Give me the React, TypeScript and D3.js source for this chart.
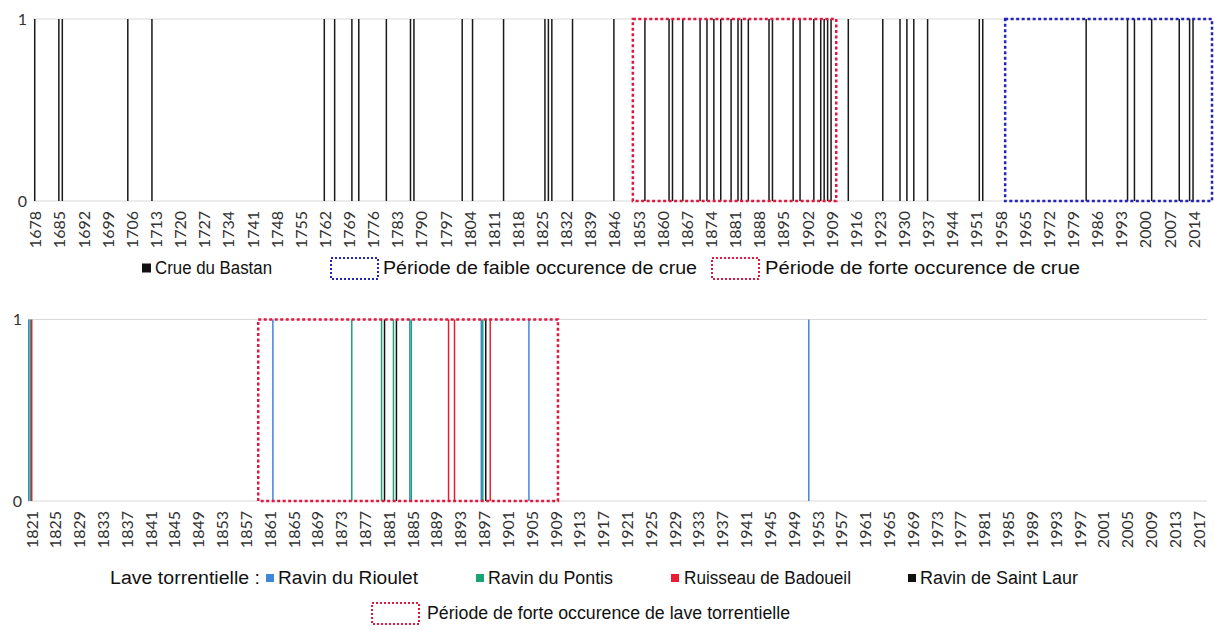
import {Component, createRef} from "react";
import * as d3 from "d3";

// ---- Crue du Bastan : one bar per year with a flood ----
const crueFirst = 1678
const crueLast = 2019
const crueTickStep = 7
const crueYears = [1678, 1685, 1686, 1705, 1712, 1762, 1765, 1770, 1772, 1780, 1787, 1788,
    1802, 1805, 1814, 1826, 1827, 1828, 1834, 1846, 1855, 1862, 1863, 1866, 1871, 1873,
    1875, 1877, 1880, 1882, 1883, 1885, 1891, 1892, 1898, 1900, 1904, 1906, 1907, 1908,
    1909, 1914, 1924, 1929, 1931, 1933, 1937, 1952, 1953, 1983, 1995, 1997, 2002, 2010,
    2013, 2014]
// periods (first year, last year)
const crueForte = [1852, 1910]
const crueFaible = [1960, 2019]

// ---- Laves torrentielles ----
const laveFirst = 1821
const laveLast = 2018
const laveTickStep = 4
const rioulet = [1821, 1862, 1885, 1897, 1905, 1952]
const pontis = [1821, 1875, 1880, 1882, 1885, 1897]
const badoueil = [1821, 1891, 1892, 1898]
const saintLaur = [1880, 1882, 1897]
const laveNames = ["Ravin du Rioulet", "Ravin du Pontis", "Ruisseau de Badoueil", "Ravin de Saint Laur"]
const laveColors = ["#3f87d6", "#17a673", "#ec1b30", "#111111"]
const laveForte = [1860, 1909]

const RED = "#e0173f"
const BLUE = "#2424b8"
const TICK_FONT = "Lato, 'Open Sans', sans-serif"
const LEGEND_FONT = "'Liberation Sans', Arial, sans-serif"

class App extends Component {
    myRef = createRef<HTMLDivElement>()
    svg: any = undefined

    componentDidMount() {
        if (!this.svg) {
            this.svg = d3.select(this.myRef.current)
                .append('svg')
                .attr('width', 1214)
                .attr('height', 632)
                .style('display', 'block')
                .style('background', '#fff')
        }
        this.paint()
    }

    // dotted period box spanning whole bands
    box(g: any, x: any, y: any, period: number[], color: string, shift = 0) {
        const x0 = (x(period[0]) as number) + shift
        const x1 = (x(period[1]) as number) + x.bandwidth()
        g.append('rect')
            .attr('x', x0).attr('y', y(1))
            .attr('width', x1 - x0).attr('height', y(0) - y(1))
            .attr('fill', 'none')
            .attr('stroke', color)
            .attr('stroke-width', 2.5)
            .attr('stroke-dasharray', '3 2.5')
    }

    axisStuff(g: any, x: any, y: any, ticks: number[], labelTop: number, yLabelX: number) {
        const [left, right] = x.range()
        g.selectAll('.grid')
            .data([0, 1])
            .join('line')
            .attr('x1', left).attr('x2', right)
            .attr('y1', (d: number) => y(d)).attr('y2', (d: number) => y(d))
            .attr('stroke', '#d9d9d9')
            .attr('stroke-width', 1.2)
        g.selectAll('.ylab')
            .data([0, 1])
            .join('text')
            .attr('x', yLabelX).attr('y', (d: number) => y(d))
            .attr('dy', '0.35em')
            .attr('text-anchor', 'end')
            .style('font-family', TICK_FONT)
            .style('font-size', '16px')
            .attr('fill', '#333')
            .text((d: number) => d)
        g.selectAll('.xlab')
            .data(ticks)
            .join('text')
            .attr('transform', (d: number) => `translate(${(x(d) as number) + x.bandwidth() / 2 + 1},${labelTop}) rotate(-90)`)
            .attr('dy', '0.35em')
            .attr('text-anchor', 'end')
            .style('font-family', TICK_FONT)
            .style('font-size', '16px')
            .attr('fill', '#333')
            .text((d: number) => d)
    }

    legendText(g: any, x: number, y: number, w: number, txt: string) {
        g.append('text')
            .attr('x', x).attr('y', y)
            .attr('dy', '0.36em')
            .attr('textLength', w)
            .attr('lengthAdjust', 'spacingAndGlyphs')
            .style('font-family', LEGEND_FONT)
            .style('font-size', '18px')
            .attr('fill', '#111')
            .text(txt)
    }

    legendBox(g: any, x: number, y: number, color: string) {
        g.append('rect')
            .attr('x', x).attr('y', y - 10)
            .attr('width', 47).attr('height', 21)
            .attr('fill', 'none')
            .attr('stroke', color)
            .attr('stroke-width', 2)
            .attr('stroke-dasharray', '2 2')
    }

    paint() {
        const svg = this.svg
        svg.selectAll('*').remove()

        // ---------- top chart ----------
        const years = d3.range(crueFirst, crueLast + 1)
        const x = d3.scaleBand<number>().domain(years).range([33, 1212]).padding(0)
        const y = d3.scaleLinear().domain([0, 1]).range([201, 19])
        const top = svg.append('g')
        this.axisStuff(top, x, y, years.filter(d => (d - crueFirst) % crueTickStep === 0 && d <= 2014), 211, 27)

        const bw = 1.5
        top.selectAll('.bar')
            .data(crueYears)
            .join('rect')
            .attr('x', (d: number) => (x(d) as number) + x.bandwidth() / 2 - bw / 2)
            .attr('width', bw)
            .attr('y', y(1))
            .attr('height', y(0) - y(1))
            .attr('fill', '#1a1a1a')

        this.box(top, x, y, crueForte, RED)
        this.box(top, x, y, crueFaible, BLUE)

        // legend
        const l1 = svg.append('g')
        const ly = 268
        l1.append('rect').attr('x', 142).attr('y', ly - 4.5).attr('width', 9).attr('height', 9).attr('fill', '#111')
        this.legendText(l1, 155, ly, 117, "Crue du Bastan")
        this.legendBox(l1, 331, ly, BLUE)
        this.legendText(l1, 383, ly, 314, "Période de faible occurence de crue")
        this.legendBox(l1, 712, ly, RED)
        this.legendText(l1, 765, ly, 315, "Période de forte occurence de crue")

        // ---------- bottom chart ----------
        const years2 = d3.range(laveFirst, laveLast + 1)
        const x2 = d3.scaleBand<number>().domain(years2).range([28, 1207]).padding(0)
        const xs = d3.scaleBand<number>().domain([0, 1, 2, 3]).range([0, x2.bandwidth()]).padding(0)
        const y2 = d3.scaleLinear().domain([0, 1]).range([501, 319.5])
        const bot = svg.append('g')
        this.axisStuff(bot, x2, y2, years2.filter(d => (d - laveFirst) % laveTickStep === 0), 511, 22)

        const series = [rioulet, pontis, badoueil, saintLaur]
        series.forEach((yrs, i) => {
            bot.append('g')
                .selectAll('rect')
                .data(yrs)
                .join('rect')
                .attr('x', (d: number) => (x2(d) as number) + (xs(i) as number))
                .attr('width', xs.bandwidth())
                .attr('y', y2(1))
                .attr('height', y2(0) - y2(1))
                .attr('fill', laveColors[i])
        })

        // this box starts a touch before 1860 in the original
        this.box(bot, x2, y2, laveForte, RED, -2)

        // legend
        const l2 = svg.append('g')
        const ry = 578
        this.legendText(l2, 110, ry, 150, "Lave torrentielle :")
        const sqX = [266, 476, 671, 908]
        const txX = [278, 488, 684, 920]
        const txW = [140, 125, 167, 158]
        laveNames.forEach((n, i) => {
            l2.append('rect').attr('x', sqX[i]).attr('y', ry - 4).attr('width', 8).attr('height', 8).attr('fill', laveColors[i])
            this.legendText(l2, txX[i], ry, txW[i], n)
        })
        this.legendBox(l2, 372, 613, RED)
        this.legendText(l2, 427, 613, 363, "Période de forte occurence de lave torrentielle")
    }

    render() {
        return (
            <div style={{position: 'absolute', left: 0, top: 0}}>
                <div ref={this.myRef}></div>
            </div>
        )
    }
}

export default App
